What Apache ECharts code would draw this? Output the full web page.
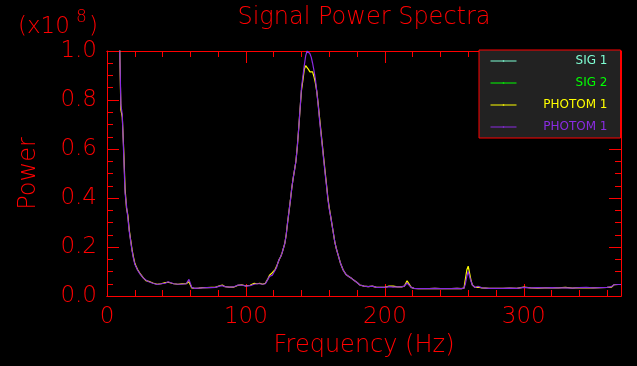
<!DOCTYPE html>
<html>
<head>
<meta charset="utf-8">
<script src="https://cdn.jsdelivr.net/npm/echarts@6/dist/echarts.min.js"></script>
<style>
html,body{margin:0;padding:0;background:#000;}
#chart{width:637px;height:366px;}
</style>
</head>
<body>
<div id="chart"></div>
<script>
// Frequency (Hz)
const freqs = [9,10,11,12,13,14,15,16,17,18,19,20,21,22,24,26,28,30,33,36,39,42,44,45,48,51,54,57,59,61,63,66,69,72,75,78,81,83,85,88,91,94,97,100,103,106,108,110,112,114,116,117,118,119,120,121,122,123,124,125,126,127,128,129,130,131,132,133,134,135,136,137,138,139,140,141,142,143,144,145,146,147,148,149,150,151,152,153,154,155,156,157,158,159,160,161,162,163,164,165,166,168,170,172,174,176,178,180,182,185,188,191,194,197,200,203,206,209,212,214,216,217,219,221,224,228,232,236,240,244,248,252,255,257,258,259,260,261,262,263,265,267,270,275,280,285,290,295,300,305,310,315,320,325,330,335,340,345,350,355,360,363,365,368,370];
// PHOTOM 1 (yellow), power x1e8
const photomYellow = [1.05,0.76,0.73,0.6,0.44,0.36,0.33,0.27,0.23,0.19,0.16,0.135,0.12,0.108,0.09,0.075,0.063,0.06,0.053,0.048,0.05,0.055,0.056,0.052,0.05,0.048,0.05,0.05,0.058,0.033,0.031,0.032,0.034,0.034,0.035,0.035,0.042,0.045,0.038,0.036,0.036,0.043,0.046,0.041,0.044,0.052,0.05,0.052,0.048,0.052,0.072,0.085,0.09,0.095,0.1,0.108,0.12,0.135,0.15,0.16,0.175,0.195,0.215,0.25,0.3,0.345,0.39,0.44,0.48,0.515,0.55,0.61,0.685,0.765,0.84,0.88,0.925,0.94,0.94,0.925,0.915,0.92,0.915,0.895,0.87,0.835,0.785,0.728,0.672,0.618,0.562,0.508,0.455,0.4,0.36,0.325,0.29,0.255,0.22,0.195,0.175,0.135,0.106,0.088,0.08,0.072,0.063,0.055,0.045,0.04,0.038,0.04,0.035,0.035,0.035,0.04,0.04,0.037,0.037,0.04,0.062,0.06,0.035,0.031,0.03,0.03,0.03,0.031,0.03,0.03,0.03,0.031,0.03,0.032,0.07,0.106,0.122,0.12,0.065,0.045,0.035,0.036,0.033,0.031,0.031,0.031,0.032,0.031,0.036,0.033,0.032,0.033,0.034,0.033,0.035,0.032,0.034,0.033,0.033,0.034,0.035,0.036,0.046,0.047,0.047];
// PHOTOM 1 (purple), power x1e8
const photomPurple = [1.05,0.78,0.74,0.58,0.42,0.37,0.32,0.265,0.225,0.185,0.155,0.13,0.118,0.105,0.088,0.074,0.065,0.058,0.052,0.047,0.05,0.052,0.058,0.053,0.05,0.048,0.048,0.05,0.068,0.035,0.031,0.032,0.033,0.034,0.034,0.035,0.04,0.042,0.038,0.036,0.037,0.044,0.045,0.04,0.042,0.048,0.05,0.05,0.048,0.05,0.07,0.08,0.082,0.085,0.095,0.105,0.115,0.135,0.15,0.16,0.175,0.195,0.215,0.25,0.3,0.345,0.39,0.44,0.48,0.515,0.55,0.61,0.685,0.765,0.85,0.895,0.94,0.98,1.0,0.995,0.99,0.975,0.95,0.92,0.885,0.835,0.78,0.72,0.665,0.61,0.555,0.5,0.45,0.395,0.355,0.325,0.29,0.255,0.22,0.195,0.175,0.135,0.106,0.088,0.08,0.072,0.063,0.055,0.045,0.04,0.038,0.04,0.035,0.035,0.035,0.038,0.036,0.037,0.037,0.04,0.053,0.05,0.035,0.031,0.03,0.03,0.03,0.031,0.03,0.03,0.03,0.031,0.03,0.032,0.05,0.08,0.1,0.1,0.06,0.045,0.035,0.04,0.033,0.031,0.031,0.031,0.032,0.031,0.035,0.033,0.034,0.033,0.034,0.033,0.033,0.032,0.034,0.035,0.033,0.034,0.035,0.038,0.046,0.047,0.047];
// SIG 1 / SIG 2: listed in the legend but no trace of them is visible in the reference
const sig1Values = [];
const sig2Values = [];

const seriesNames = ['SIG 1', 'SIG 2', 'PHOTOM 1', 'PHOTOM 1 '];
const seriesColors = ['#7fffd4', '#00ff00', '#ffff00', '#8a2be2'];
const xTicks = [0, 100, 200, 300];
const yTicks = [0.0, 0.2, 0.4, 0.6, 0.8, 1.0];

const FONT = 'DejaVu Sans';
const FW = 200;
const RED = '#ff0000';
const chart = echarts.init(document.getElementById('chart'), null, {renderer: 'canvas'});

const allVals = [sig1Values, sig2Values, photomYellow, photomPurple];
function pairs(vals) { return vals.map((v, i) => [freqs[i], v]); }

const rich = {};
seriesNames.forEach((n, i) => {
  rich['t' + i] = {color: seriesColors[i], fontSize: 12, fontFamily: FONT, fontWeight: 'normal', width: 86, align: 'right', lineHeight: 14};
});

function xAxisDef(pos, interval, len, labels) {
  return {
    type: 'value', position: pos, min: 0, max: 370, interval: interval,
    axisLine: {show: true, onZero: false, lineStyle: {color: RED, width: 1}},
    axisTick: {show: true, inside: true, length: len, lineStyle: {color: RED, width: 1}},
    axisLabel: labels ? {show: true, color: RED, fontSize: 23, fontFamily: FONT, fontWeight: FW, margin: 10, showMaxLabel: false,
      formatter: v => (xTicks.indexOf(v) >= 0 ? String(v) : '')} : {show: false},
    splitLine: {show: false},
    name: labels ? 'Frequency (Hz)' : '',
    nameLocation: 'middle', nameGap: 38,
    nameTextStyle: {color: RED, fontSize: 24, fontFamily: FONT, fontWeight: FW}
  };
}
function yAxisDef(pos, labels) {
  return {
    type: 'value', position: pos, min: 0, max: 1, interval: 0.2,
    axisLine: {show: true, onZero: false, lineStyle: {color: RED, width: 1}},
    axisTick: {show: true, inside: true, length: 12, lineStyle: {color: RED, width: 1}},
    minorTick: {show: true, splitNumber: 4, length: 6, lineStyle: {color: RED, width: 1}},
    axisLabel: labels ? {show: true, color: RED, fontSize: 23, fontFamily: FONT, fontWeight: FW, margin: 10,
      formatter: v => Number(v).toFixed(1)} : {show: false},
    splitLine: {show: false},
    name: labels ? 'Power' : '',
    nameLocation: 'middle', nameGap: 66,
    nameTextStyle: {color: RED, fontSize: 24, fontFamily: FONT, fontWeight: FW}
  };
}

chart.setOption({
  animation: false,
  backgroundColor: '#000000',
  grid: {left: 107, right: 16, top: 51, bottom: 70, containLabel: false},
  xAxis: [
    xAxisDef('bottom', 100, 12, true),
    xAxisDef('bottom', 20, 6, false),
    xAxisDef('top', 100, 12, false),
    xAxisDef('top', 20, 6, false)
  ],
  yAxis: [yAxisDef('left', true), yAxisDef('right', false)],
  legend: {
    show: true, orient: 'vertical', left: 479, top: 50,
    padding: [5, 13, 5, 11], itemGap: 10, itemWidth: 26, itemHeight: 2, itemTextGap: 5,
    selectedMode: false,
    backgroundColor: '#222222', borderColor: RED, borderWidth: 1,
    data: seriesNames.map((n, i) => ({
      name: n,
      itemStyle: {color: seriesColors[i], borderWidth: 0, borderColor: seriesColors[i], opacity: 1},
      lineStyle: {color: seriesColors[i], width: 1, opacity: 1}
    })),
    formatter: name => '{t' + seriesNames.indexOf(name) + '|' + name.trim() + '}',
    textStyle: {rich: rich}
  },
  graphic: [
    {type: 'text', x: 364, y: 18, style: {text: 'Signal Power Spectra', fill: RED, font: '200 24px "DejaVu Sans"', textAlign: 'center', textVerticalAlign: 'middle'}},
    {type: 'text', x: 18, y: 27, style: {text: '(x10', fill: RED, font: '200 23px "DejaVu Sans"', textAlign: 'left', textVerticalAlign: 'middle'}},
    {type: 'text', x: 76, y: 18, style: {text: '8', fill: RED, font: '200 17px "DejaVu Sans"', textAlign: 'left', textVerticalAlign: 'middle'}},
    {type: 'text', x: 89, y: 27, style: {text: ')', fill: RED, font: '200 23px "DejaVu Sans"', textAlign: 'left', textVerticalAlign: 'middle'}}
  ],
  series: seriesNames.map((n, i) => ({
    name: n, type: 'line', xAxisIndex: 0, yAxisIndex: 0,
    data: pairs(allVals[i]), showSymbol: false, symbol: 'none', clip: true,
    lineStyle: {color: seriesColors[i], width: 1.2}, itemStyle: {color: seriesColors[i]},
    z: 2 + i
  }))
});
</script>
</body>
</html>
